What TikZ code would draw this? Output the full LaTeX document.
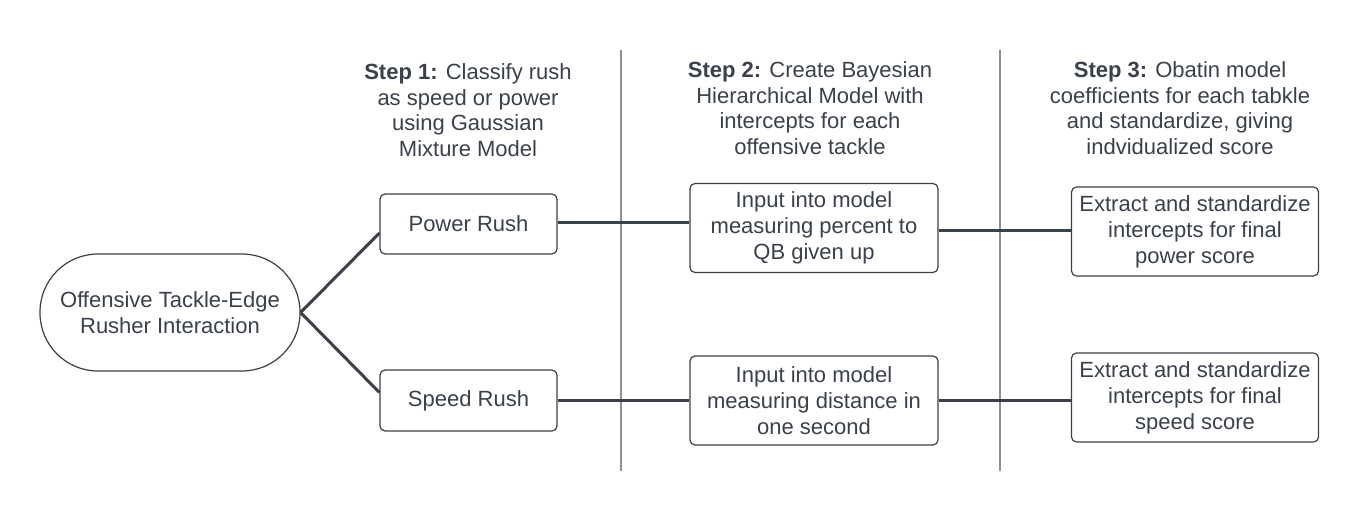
\documentclass[tikz,border=0pt]{standalone}
\usepackage{fontspec}
\setmainfont{Liberation Sans}
\usetikzlibrary{calc}
\definecolor{txt}{HTML}{3A414A}
\definecolor{linec}{HTML}{3C4049}
\definecolor{sep}{HTML}{8C8F94}
\begin{document}
\begin{tikzpicture}[x=1pt,y=-1pt,
  every node/.style={font=\fontsize{22}{26}\selectfont, text=txt, align=center, inner sep=0pt},
  box/.style={draw=linec, line width=1.2pt, rounded corners=5pt, fill=white},
  conn/.style={draw=linec, line width=3pt},
  sepline/.style={draw=sep, line width=1.3pt},
  hdr/.style={font=\fontsize{22}{25.5}\selectfont}
]
\useasboundingbox[fill=white] (0,0) rectangle (1360,513);
% separators
\coordinate (s1t) at (621,50); \coordinate (s1b) at (621,471);
\coordinate (s2t) at (1000,50); \coordinate (s2b) at (1000,471);
\draw[sepline] (s1t) -- (s1b);
\draw[sepline] (s2t) -- (s2b);
% headers
\node[hdr] (h1) at (468,110) {\textbf{Step 1:} Classify rush\\as speed or power\\using Gaussian\\Mixture Model};
\node[hdr] (h2) at (810,108) {\textbf{Step 2:} Create Bayesian\\Hierarchical Model with\\intercepts for each\\offensive tackle};
\node[hdr] (h3) at (1180,108) {\textbf{Step 3:} Obatin model\\coefficients for each tabkle\\and standardize, giving\\indvidualized score};
% nodes
\node[box, rounded corners=58pt, minimum width=260pt, minimum height=117pt] (start) at (170,312.5) {Offensive Tackle-Edge\\Rusher Interaction};
\node[box, minimum width=177pt, minimum height=60pt] (power) at (468.5,224) {Power Rush};
\node[box, minimum width=177pt, minimum height=61pt] (speed) at (468.5,400.5) {Speed Rush};
\node[box, minimum width=248pt, minimum height=89pt] (in1) at (814,228) {Input into model\\measuring percent to\\QB given up};
\node[box, minimum width=248pt, minimum height=89pt] (in2) at (814,400.5) {Input into model\\measuring distance in\\one second};
\node[box, minimum width=247pt, minimum height=89pt] (ex1) at (1195,231.5) {Extract and standardize\\intercepts for final\\power score};
\node[box, minimum width=247pt, minimum height=89pt] (ex2) at (1195,397.5) {Extract and standardize\\intercepts for final\\speed score};
% connectors
\draw[conn] (start.east) -- ($(power.west)+(0,9)$);
\draw[conn] (start.east) -- ($(speed.west)+(0,-8)$);
\draw[conn] ($(power.east)+(0,-1)$) -- ($(in1.west)+(0,-5)$);
\draw[conn] ($(in1.east)+(0,3)$) -- ($(ex1.west)+(0,-0.5)$);
\draw[conn] (speed.east) -- (in2.west);
\draw[conn] (in2.east) -- ($(ex2.west)+(0,3)$);
\end{tikzpicture}
\end{document}
